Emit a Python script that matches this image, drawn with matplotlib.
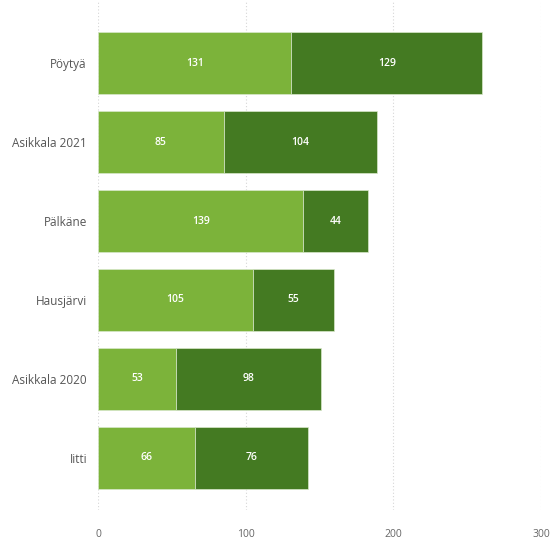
import matplotlib
matplotlib.use("Agg")
import matplotlib.pyplot as plt

categories = ["Pöytyä", "Asikkala 2021", "Pälkäne", "Hausjärvi", "Asikkala 2020", "Iitti"]
series_a = [131, 85, 139, 105, 53, 66]
series_b = [129, 104, 44, 55, 98, 76]
xticks = [0, 100, 200, 300]

plt.rcParams['font.family'] = ['Open Sans', 'DejaVu Sans']

fig = plt.figure(figsize=(5.51, 5.42), dpi=100)
ax = fig.add_axes([98/551, 32/542, (541-98)/551, 510/542])

c1 = "#7cb33a"
c2 = "#447a22"
pos = list(range(len(categories)))
h = 0.78
ax.barh(pos, series_a, height=h, color=c1, edgecolor="#d8e8ca", linewidth=0.5, zorder=3)
ax.barh(pos, series_b, left=series_a, height=h, color=c2, edgecolor="#d8e8ca", linewidth=0.5, zorder=3)

for i, (a, b) in enumerate(zip(series_a, series_b)):
    ax.text(a / 2, i, str(a), ha="center", va="center", color="white", fontsize=7.5,
            fontweight="semibold", zorder=4)
    ax.text(a + b / 2, i, str(b), ha="center", va="center", color="white", fontsize=7.5,
            fontweight="semibold", zorder=4)

ax.set_xlim(0, 300)
ax.set_ylim(5.66, -0.80)
ax.set_xticks(xticks)
ax.set_xticklabels([str(t) for t in xticks])
ax.set_yticks(pos)
ax.set_yticklabels(categories)
ax.tick_params(axis="x", length=0, pad=14, labelsize=7.5, labelcolor="#666666")
ax.tick_params(axis="y", length=0, pad=8, labelsize=8.5, labelcolor="#555555")
ax.grid(axis="x", linestyle=(0, (1, 2)), color="#d6d6d6", linewidth=0.8, zorder=0)
for s in ax.spines.values():
    s.set_visible(False)

fig.savefig("out.png", dpi=100)
